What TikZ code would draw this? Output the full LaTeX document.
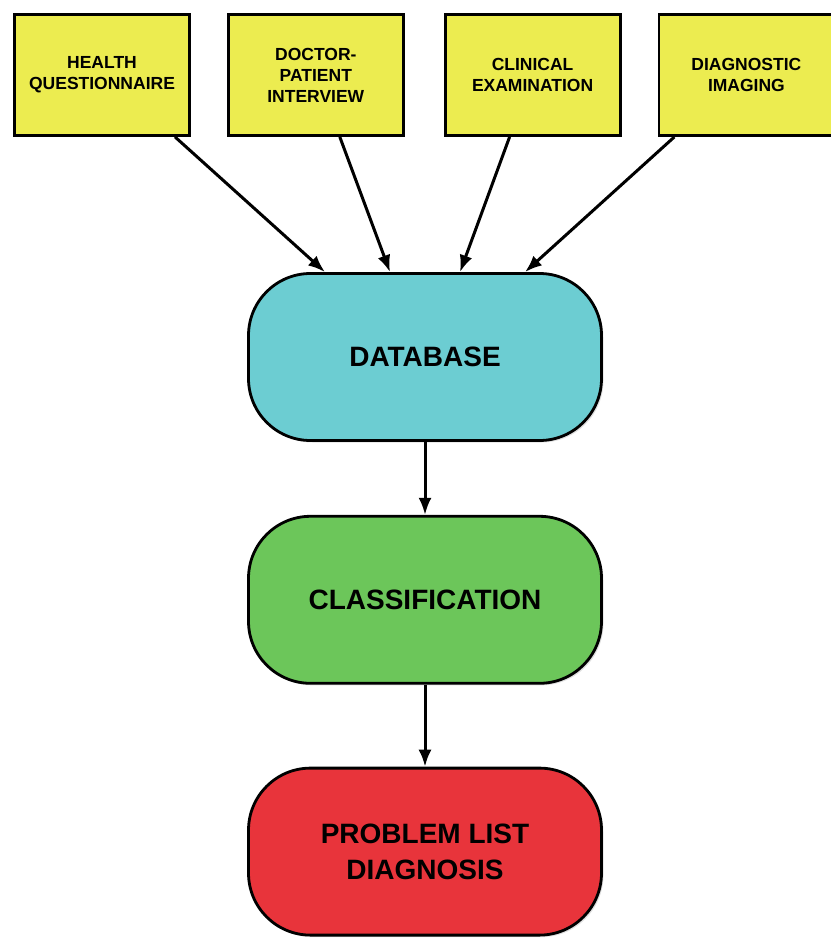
\documentclass[tikz,border=0pt]{standalone}
\usepackage{fontspec}
\setmainfont{Liberation Sans}
\usetikzlibrary{positioning,arrows.meta,shadows}
\definecolor{srcyellow}{HTML}{ECEC50}
\definecolor{dbcyan}{HTML}{6CCDD2}
\definecolor{clsgreen}{HTML}{6CC65A}
\definecolor{diagred}{HTML}{E8343B}

\tikzset{
  source/.style={draw=black, line width=2.8pt, fill=srcyellow,
    minimum width=175pt, minimum height=121pt, align=center,
    font=\fontsize{17.5}{21}\selectfont\bfseries,
    drop shadow={opacity=0.25, shadow xshift=1.5pt, shadow yshift=-1.5pt}},
  stage/.style={draw=black, line width=2.8pt, rounded corners=62pt,
    minimum width=353pt, minimum height=167pt, align=center,
    font=\fontsize{28}{36}\selectfont\bfseries,
    drop shadow={opacity=0.25, shadow xshift=2pt, shadow yshift=-2pt}},
  arr/.style={line width=3pt, -{Latex[length=17pt,width=13pt]}}
}

\begin{document}
\begin{tikzpicture}[x=1pt, y=-1pt]
      \useasboundingbox (0,0) rectangle (830,941);
      % Define nodes
      \node[source] (hq) at (102,75) {HEALTH\\QUESTIONNAIRE};
      \node[source, right=36pt of hq] (dpi) {DOCTOR-\\PATIENT\\INTERVIEW};
      \node[source, right=39pt of dpi] (ce) {CLINICAL\\EXAMINATION};
      \node[source, right=36pt of ce] (di) {DIAGNOSTIC\\IMAGING};
      \node[stage, fill=dbcyan] (db) at (425,357) {DATABASE};
      \node[stage, fill=clsgreen, below=73pt of db] (cls) {CLASSIFICATION};
      \node[stage, fill=diagred, below=82pt of cls] (pl) {PROBLEM LIST\\DIAGNOSIS};
      % Connect the nodes
      \draw[arr] ([xshift=73pt]hq.south) -- ([xshift=-100pt]db.north);
      \draw[arr] ([xshift=24pt]dpi.south) -- ([xshift=-35pt]db.north);
      \draw[arr] ([xshift=-23pt]ce.south) -- ([xshift=35pt]db.north);
      \draw[arr] ([xshift=-72pt]di.south) -- ([xshift=100pt]db.north);
      \draw[arr] (db) -- (cls);
      \draw[arr] (cls) -- (pl);
\end{tikzpicture}
\end{document}
